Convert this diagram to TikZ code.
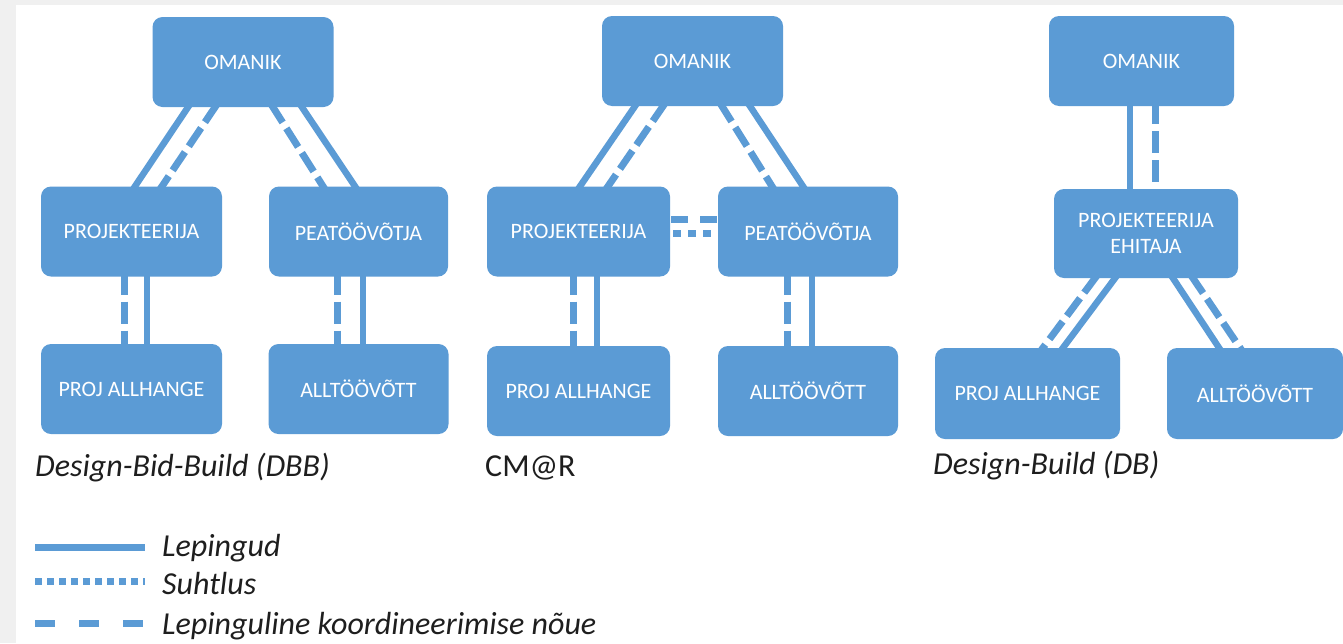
\documentclass[tikz,border=0pt]{standalone}
\usepackage{fontspec}
\setmainfont{Carlito}
\usetikzlibrary{calc,backgrounds}
\definecolor{boxblue}{RGB}{91,155,213}
\definecolor{txtdark}{RGB}{30,30,30}
\definecolor{framegray}{RGB}{240,240,240}
\begin{document}
\begin{tikzpicture}[x=1pt,y=-1pt,
  box/.style={rectangle, rounded corners=10pt, fill=boxblue, text=white,
    minimum width=181pt, minimum height=90pt, inner sep=0pt, align=center,
    font=\fontsize{22}{26}\selectfont},
  lep/.style={draw=boxblue, line width=6.5pt, shorten <=-4pt, shorten >=-4pt},
  koord/.style={draw=boxblue, line width=7pt, dash pattern=on 22pt off 7pt, shorten <=-4pt, shorten >=-4pt},
  suht/.style={draw=boxblue, line width=7pt, dash pattern=on 8pt off 7pt},
  hdash/.style={draw=boxblue, line width=7pt, dash pattern=on 17pt off 12pt},
  captext/.style={anchor=base west, inner sep=0pt, text=txtdark, font=\fontsize{32}{34}\selectfont\itshape},
]
\useasboundingbox (0,0) rectangle (1343,643);

% ---------- DBB ----------
\node[box] (omA) at (243,62) {OMANIK};
\node[box] (pA) at (131.5,231.5) {PROJEKTEERIJA};
\node[box, minimum width=179pt] (gA) at (358.5,231.5) {PEATÖÖVÕTJA};
\node[box] (sA) at (131.5,389) {PROJ ALLHANGE};
\node[box, minimum width=180pt] (aA) at (358.5,389) {ALLTÖÖVÕTT};
\node[captext] (lA) at (35,476) {Design-Bid-Build (DBB)};

% ---------- CM@R ----------
\node[box] (omB) at (692.5,61) {OMANIK};
\node[box, minimum width=183pt] (pB) at (578.5,231.5) {PROJEKTEERIJA};
\node[box, minimum width=180pt] (gB) at (808,231.5) {PEATÖÖVÕTJA};
\node[box, minimum width=183pt] (sB) at (578.5,391) {PROJ ALLHANGE};
\node[box, minimum width=180pt] (aB) at (808,391) {ALLTÖÖVÕTT};
\node[captext, font=\fontsize{32}{34}\selectfont] (lB) at (485,476) {CM@R};

% ---------- DB ----------
\node[box, minimum width=185pt] (omC) at (1141.5,61) {OMANIK};
\node[box, minimum width=184pt, minimum height=89pt] (eC) at (1146,233.5) {PROJEKTEERIJA\\EHITAJA};
\node[box, minimum width=185pt, minimum height=91pt] (sC) at (1027.5,393.5) {PROJ ALLHANGE};
\node[box, minimum width=176pt, minimum height=91pt] (aC) at (1255,393.5) {ALLTÖÖVÕTT};
\node[captext] (lC) at (933,474) {Design-Build (DB)};

% ---------- legend ----------
\coordinate (l1a) at (35,547); \coordinate (l1b) at (145,547);
\coordinate (l2a) at (35,581); \coordinate (l2b) at (145,581);
\coordinate (l3a) at (35,623); \coordinate (l3b) at (145,623);
\node[captext] (t1) at (162,556) {Lepingud};
\node[captext] (t2) at (162,594) {Suhtlus};
\node[captext] (t3) at (162,634) {Lepinguline koordineerimise nõue};

\begin{scope}[on background layer]
  \fill[white] (0,0) rectangle (1343,643);
  \fill[framegray] (0,0) rectangle (1343,5);
  \fill[framegray] (0,0) rectangle (16,643);

  % DBB connectors
  \draw[lep]   ($(omA.south)+(-55,0)$) -- ($(pA.north)+(3.5,0)$);
  \draw[koord] ($(omA.south)+(-28,0)$) -- ($(pA.north)+(30.5,0)$);
  \draw[koord] ($(omA.south)+(30,0)$) -- ($(gA.north)+(-35.5,0)$);
  \draw[lep]   ($(omA.south)+(59,0)$) -- ($(gA.north)+(-3.5,0)$);
  \draw[koord] ($(pA.south)+(-7.5,0)$) -- ($(sA.north)+(-7.5,0)$);
  \draw[lep]   ($(pA.south)+(15.5,0)$) -- ($(sA.north)+(15.5,0)$);
  \draw[koord] ($(gA.south)+(-21.5,0)$) -- ($(aA.north)+(-21.5,0)$);
  \draw[lep]   ($(gA.south)+(4.5,0)$) -- ($(aA.north)+(4.5,0)$);

  % CM@R connectors
  \draw[lep]   ($(omB.south)+(-57.5,0)$) -- ($(pB.north)+(1.5,0)$);
  \draw[koord] ($(omB.south)+(-29.5,0)$) -- ($(pB.north)+(29.5,0)$);
  \draw[koord] ($(omB.south)+(29.5,0)$) -- ($(gB.north)+(-36,0)$);
  \draw[lep]   ($(omB.south)+(57.5,0)$) -- ($(gB.north)+(-5,0)$);
  \draw[koord] ($(pB.south)+(-5.5,0)$) -- ($(sB.north)+(-5.5,0)$);
  \draw[lep]   ($(pB.south)+(18.5,0)$) -- ($(sB.north)+(18.5,0)$);
  \draw[koord] ($(gB.south)+(-21,0)$) -- ($(aB.north)+(-21,0)$);
  \draw[lep]   ($(gB.south)+(4,0)$) -- ($(aB.north)+(4,0)$);
  \draw[hdash] ($(pB.east)+(1,-12.5)$) -- ($(gB.west)+(0,-12.5)$);
  \draw[suht]  ($(pB.east)+(3,2)$) -- ($(gB.west)+(0,2)$);

  % DB connectors
  \draw[lep]   ($(omC.south)+(-11.5,0)$) -- ($(eC.north)+(-16,0)$);
  \draw[koord] ($(omC.south)+(13.5,0)$) -- ($(eC.north)+(9,0)$);
  \draw[lep]   ($(eC.south)+(-31,0)$) -- ($(sC.north)+(35.5,0)$);
  \draw[koord] ($(eC.south)+(-51,0)$) -- ($(sC.north)+(15.5,0)$);
  \draw[lep]   ($(eC.south)+(27,0)$) -- ($(aC.north)+(-36,0)$);
  \draw[koord] ($(eC.south)+(47,0)$) -- ($(aC.north)+(-15,0)$);

  % legend samples
  \draw[draw=boxblue, line width=7pt] (l1a) -- (l1b);
  \draw[draw=boxblue, line width=7pt, dash pattern=on 7pt off 5pt] (l2a) -- (l2b);
  \draw[draw=boxblue, line width=7pt, dash pattern=on 20pt off 24pt] (l3a) -- (l3b);
\end{scope}
\end{tikzpicture}
\end{document}
